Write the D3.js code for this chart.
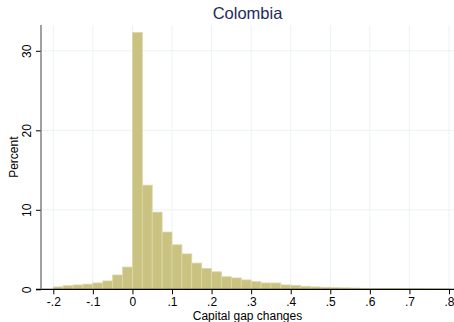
<!DOCTYPE html>
<html>
<head>
<meta charset="utf-8">
<script src="https://cdnjs.cloudflare.com/ajax/libs/d3/7.8.5/d3.min.js"></script>
<style>
  body { margin: 0; background: #fff; }
  svg { display: block; font-family: "Liberation Sans", Arial, sans-serif; }
</style>
</head>
<body>
<div id="chart"></div>
<script>
// histogram bins: left edge of each bin, width 0.025
var binWidth = 0.025;
var binStarts = d3.range(40).map(function(i) { return -0.2 + i * binWidth; });

// percent in each bin
var percents = [
  0.30, 0.45, 0.55, 0.65, 0.80, 1.05, 1.80, 2.80,
  32.3, 13.1, 9.70, 7.20, 5.60, 4.45, 3.30, 2.63,
  2.20, 1.58, 1.43, 1.18, 0.96, 0.80, 0.79, 0.55,
  0.50, 0.38, 0.30, 0.26, 0.21, 0.18, 0.16, 0.12,
  0.10, 0.09, 0.09, 0.08, 0.08, 0.07, 0.06, 0.05
];

var xTicks = [-0.2, -0.1, 0, 0.1, 0.2, 0.3, 0.4, 0.5, 0.6, 0.7, 0.8];
var xTickLabels = ["-.2", "-.1", "0", ".1", ".2", ".3", ".4", ".5", ".6", ".7", ".8"];
var yTicks = [0, 10, 20, 30];

var width = 454, height = 322;
var axisX = 41, axisTop = 25;

var x = d3.scaleLinear().domain([-0.2, 0.8]).range([53.3, 449]);
var y = d3.scaleLinear().domain([0, 30]).range([289.3, 50.8]);

var svg = d3.select("#chart").append("svg")
    .attr("width", width)
    .attr("height", height);

// grid lines
svg.append("g").attr("class", "grid")
    .selectAll("line.v").data(xTicks).enter().append("line")
    .attr("x1", function(d) { return x(d); })
    .attr("x2", function(d) { return x(d); })
    .attr("y1", axisTop)
    .attr("y2", y(0))
    .attr("stroke", "#eaf2f3")
    .attr("stroke-width", 1);

svg.append("g").attr("class", "grid")
    .selectAll("line.h").data(yTicks.slice(1)).enter().append("line")
    .attr("x1", axisX)
    .attr("x2", width)
    .attr("y1", function(d) { return y(d); })
    .attr("y2", function(d) { return y(d); })
    .attr("stroke", "#eaf2f3")
    .attr("stroke-width", 1);

// bars
svg.append("g")
    .selectAll("rect").data(percents).enter().append("rect")
    .attr("x", function(d, i) { return x(binStarts[i]); })
    .attr("width", function(d, i) { return x(binStarts[i] + binWidth) - x(binStarts[i]); })
    .attr("y", function(d) { return y(d); })
    .attr("height", function(d) { return y(0) - y(d); })
    .attr("fill", "#cac281")
    .attr("stroke", "#dcd7a6")
    .attr("stroke-width", 0.8);

// x axis
var xAxis = svg.append("g")
    .attr("transform", "translate(0," + y(0) + ")")
    .call(d3.axisBottom(x)
        .tickValues(xTicks)
        .tickSize(5)
        .tickPadding(3)
        .tickFormat(function(d, i) { return xTickLabels[i]; }));
xAxis.select(".domain").remove();
xAxis.selectAll(".tick line").attr("stroke", "#000");
xAxis.selectAll(".tick text")
    .attr("font-size", 12)
    .attr("fill", "#000")
    .attr("font-family", "Liberation Sans, Arial, sans-serif");

svg.append("line")
    .attr("x1", 36).attr("x2", width)
    .attr("y1", y(0)).attr("y2", y(0))
    .attr("stroke", "#000").attr("stroke-width", 1.2);

// y axis
var yAxis = svg.append("g")
    .attr("transform", "translate(" + axisX + ",0)")
    .call(d3.axisLeft(y).tickValues(yTicks).tickSize(5).tickFormat(d3.format("d")));
yAxis.select(".domain").remove();
yAxis.selectAll(".tick line").attr("stroke", "#000");
yAxis.selectAll(".tick text")
    .attr("transform", function(d) { return "rotate(-90)"; })
    .attr("x", 0).attr("y", -10.5).attr("dy", 0)
    .attr("text-anchor", "middle")
    .attr("font-size", 12)
    .attr("fill", "#000")
    .attr("font-family", "Liberation Sans, Arial, sans-serif");

svg.append("line")
    .attr("x1", axisX).attr("x2", axisX)
    .attr("y1", axisTop).attr("y2", y(0))
    .attr("stroke", "#6e6e6e").attr("stroke-width", 1.3);

// title and axis titles
svg.append("text")
    .attr("x", (axisX + width) / 2)
    .attr("y", 19)
    .attr("text-anchor", "middle")
    .attr("font-size", 16.5)
    .attr("fill", "#1e2c5a")
    .text("Colombia");

svg.append("text")
    .attr("x", (axisX + width) / 2)
    .attr("y", 319.5)
    .attr("text-anchor", "middle")
    .attr("font-size", 12)
    .attr("fill", "#000")
    .text("Capital gap changes");

svg.append("text")
    .attr("transform", "translate(18.3," + ((axisTop + y(0)) / 2) + ") rotate(-90)")
    .attr("text-anchor", "middle")
    .attr("font-size", 12)
    .attr("fill", "#000")
    .text("Percent");
</script>
</body>
</html>
